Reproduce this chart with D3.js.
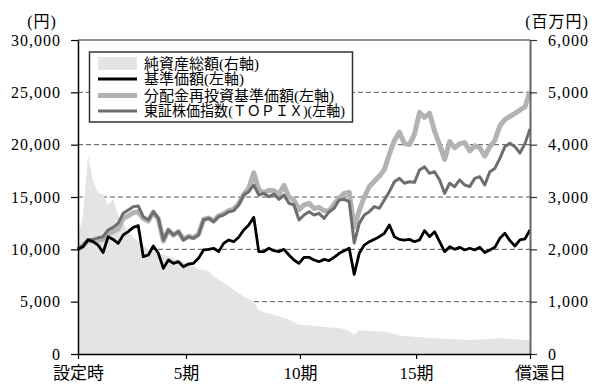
<!DOCTYPE html>
<html><head><meta charset="utf-8">
<script src="https://cdn.jsdelivr.net/npm/d3@7"></script>
<style>
html,body{margin:0;padding:0;background:#fff;}
svg{display:block;}
</style></head>
<body><svg id="c" width="595" height="384"></svg>
<script>
// ---- data ----
const xTickValues = [0, 0.239, 0.491, 0.748, 1];
const xTickLabels = ["設定時", "5期", "10期", "15期", "償還日"];
const leftTicks = [0, 5000, 10000, 15000, 20000, 25000, 30000];
const rightTicks = [0, 1000, 2000, 3000, 4000, 5000, 6000];
const gridValues = [5000, 10000, 15000, 20000, 25000];
const legendLabels = ["純資産総額(右軸)", "基準価額(左軸)", "分配金再投資基準価額(左軸)", "東証株価指数(ＴＯＰＩＸ)(左軸)"];

// 基準価額 (円)
const navPrice = [
10000,10250,10890,10730,10400,9700,11200,10950,10570,11370,
11690,12100,12260,9300,9460,10320,9620,8180,8980,8660,
8820,8340,8600,8660,9140,9940,10000,10100,9780,10570,
10890,10730,11150,11850,12320,13060,9780,9780,10100,9870,
9780,10000,9460,8980,8660,9240,9240,8980,8820,9040,
8920,9240,9620,9870,10100,7600,9620,10410,10730,10950,
11210,11530,12320,11210,10950,10890,10950,10730,10890,11780,
11210,11690,10730,9780,10250,10000,10190,9940,10100,9940,
10190,9700,9940,10190,11050,11530,10830,10320,10900,11000,
11850];
// 分配金再投資基準価額 (円)
const reinvPrice = [
10000,10350,10850,10800,10900,10950,11450,11700,11950,12950,
13200,13500,13600,12950,12700,13550,12900,10800,11850,11350,
11700,10950,11250,11100,11450,12850,13000,12700,13200,13400,
13700,13850,14350,15250,15830,17300,15700,15400,15650,15600,
15250,16100,15000,14700,13800,14250,14400,13900,14000,13700,
13650,14350,14900,15350,15450,12100,13700,15000,16000,16500,
17000,17600,19100,20400,21200,20100,20000,21000,23100,22600,
23000,21300,20000,18600,20300,19700,20100,20200,19400,19900,
19700,18900,19800,20400,21800,22400,22700,23000,23300,23600,
25100];
// 東証株価指数 (TOPIX, 設定時=10000)
const topix = [
10000,10410,10950,10950,11100,11210,11850,12100,12480,13440,
13760,14080,14140,13120,12800,13600,12960,10890,11850,11370,
11690,10890,11210,11050,11370,12800,12960,12640,13120,13280,
13600,13690,14240,15190,15510,16150,15190,15350,15030,15280,
14780,15190,14400,14240,12800,13280,13600,13280,13440,12960,
13600,13920,14720,14780,14560,10600,12480,13280,13600,14080,
13920,14720,15510,16460,16780,16310,16460,16400,17580,17880,
17250,17410,16630,15350,16310,15990,16630,16150,15990,16780,
16940,16150,17410,17730,18690,19810,20130,19810,19200,20100,
21500];
// 純資産総額 (百万円)
const netAssets = [
2240,2650,3800,3300,3070,3050,2850,2950,2650,2500,
2340,2230,2150,2070,2000,1960,1930,1900,1870,1830,
1800,1760,1720,1670,1620,1600,1590,1480,1420,1360,
1300,1230,1160,1100,1050,1010,830,800,780,750,
720,690,660,610,560,550,545,535,525,515,
505,500,495,480,440,370,455,450,445,435,
430,425,410,380,355,345,340,330,325,315,
305,300,295,290,285,280,275,270,268,270,
275,280,290,295,300,295,285,280,275,268,
260];

// ---- chart ----
const svg = d3.select("#c");
const L = 78, R = 530, T = 40, B = 354;
const N = navPrice.length;
const t = i => i / (N - 1);
const x = d3.scaleLinear().domain([0, 1]).range([L, R]);
const yL = d3.scaleLinear().domain([0, 30000]).range([B, T]);
const yR = d3.scaleLinear().domain([0, 6000]).range([B, T]);
const FONT = "'Liberation Serif','Noto Sans CJK JP',serif";

svg.append("rect").attr("width", 595).attr("height", 384).attr("fill", "#fff");

// grid
svg.append("g").selectAll("line").data(gridValues).join("line")
  .attr("x1", L).attr("x2", R)
  .attr("y1", d => yL(d)).attr("y2", d => yL(d))
  .attr("stroke", "#555").attr("stroke-width", 1).attr("stroke-dasharray", "5,3");

// area
const area = d3.area().x((d, i) => x(t(i))).y0(B).y1(d => yR(d)).curve(d3.curveLinear);
svg.append("path").datum(netAssets).attr("d", area).attr("fill", "#e4e4e4");

const line = d3.line().x((d, i) => x(t(i))).y(d => yL(d)).curve(d3.curveLinear);
svg.append("path").datum(reinvPrice).attr("d", line).attr("fill", "none")
  .attr("stroke", "#b3b3b3").attr("stroke-width", 5).attr("stroke-linejoin", "round");
svg.append("path").datum(topix).attr("d", line).attr("fill", "none")
  .attr("stroke", "#6e6e6e").attr("stroke-width", 3).attr("stroke-linejoin", "round");
svg.append("path").datum(navPrice).attr("d", line).attr("fill", "none")
  .attr("stroke", "#000").attr("stroke-width", 2.8).attr("stroke-linejoin", "round");

// top border
svg.append("line").attr("x1", L).attr("x2", R).attr("y1", T).attr("y2", T)
  .attr("stroke", "#222").attr("stroke-width", 1.2);

// left axis
const gl = svg.append("g").attr("transform", `translate(${L},0)`)
  .call(d3.axisLeft(yL).tickValues(leftTicks).tickSize(7).tickSizeOuter(0).tickPadding(10).tickFormat(d3.format(",")));
gl.select(".domain").attr("stroke", "#000").attr("stroke-width", 1.5);
gl.selectAll(".tick line").attr("stroke", "#000").attr("stroke-width", 1.2);
gl.selectAll(".tick text").attr("font-family", FONT).attr("font-size", 16).attr("letter-spacing", "1px").attr("fill", "#000");

// right axis
const gr = svg.append("g").attr("transform", `translate(${R},0)`)
  .call(d3.axisRight(yR).tickValues(rightTicks).tickSize(7).tickSizeOuter(0).tickPadding(11).tickFormat(d3.format(",")));
gr.select(".domain").attr("stroke", "#666").attr("stroke-width", 2);
gr.selectAll(".tick line").attr("stroke", "#333").attr("stroke-width", 1.2);
gr.selectAll(".tick text").attr("font-family", FONT).attr("font-size", 16).attr("letter-spacing", "1px").attr("fill", "#000");

// bottom axis
const gb = svg.append("g").attr("transform", `translate(0,${B})`)
  .call(d3.axisBottom(x).tickValues(xTickValues).tickSize(5).tickSizeOuter(0).tickPadding(8)
    .tickFormat((d, i) => xTickLabels[i]));
gb.select(".domain").attr("stroke", "#000").attr("stroke-width", 1.5);
gb.selectAll(".tick line").attr("stroke", "#000").attr("stroke-width", 1.2);
gb.selectAll(".tick text").attr("font-family", FONT).attr("font-size", 17).attr("fill", "#000");
gb.selectAll(".tick text").filter((d, i) => i === xTickValues.length - 1).attr("dx", 10);

// unit labels
svg.append("text").attr("x", 42).attr("y", 21).attr("text-anchor", "middle").attr("dominant-baseline", "central")
  .attr("font-family", FONT).attr("font-size", 16).attr("letter-spacing", "1px").text("(円)");
svg.append("text").attr("x", 557).attr("y", 21).attr("text-anchor", "middle").attr("dominant-baseline", "central")
  .attr("font-family", FONT).attr("font-size", 16).attr("letter-spacing", "1px").text("(百万円)");

// legend
const lg = svg.append("g");
lg.append("rect").attr("x", 89.5).attr("y", 52).attr("width", 263).attr("height", 70)
  .attr("fill", "#fff").attr("stroke", "#333").attr("stroke-width", 1.5);
const rowY = [63.5, 79, 95.5, 111];
lg.append("rect").attr("x", 98).attr("y", rowY[0] - 6.5).attr("width", 39).attr("height", 13).attr("fill", "#e4e4e4");
const lstyles = [null, {c: "#000", w: 3}, {c: "#b3b3b3", w: 5}, {c: "#6e6e6e", w: 3}];
lstyles.forEach((s, i) => {
  if (!s) return;
  lg.append("line").attr("x1", 98).attr("x2", 137).attr("y1", rowY[i]).attr("y2", rowY[i])
    .attr("stroke", s.c).attr("stroke-width", s.w);
});
lg.selectAll("text.lt").data(legendLabels).join("text").attr("class", "lt")
  .attr("x", 144).attr("y", (d, i) => rowY[i]).attr("dominant-baseline", "central")
  .attr("font-family", FONT).attr("font-size", 15).attr("fill", "#000").text(d => d)
  .filter((d, i) => i === 3).attr("textLength", 201).attr("lengthAdjust", "spacingAndGlyphs");
</script>
</body></html>
